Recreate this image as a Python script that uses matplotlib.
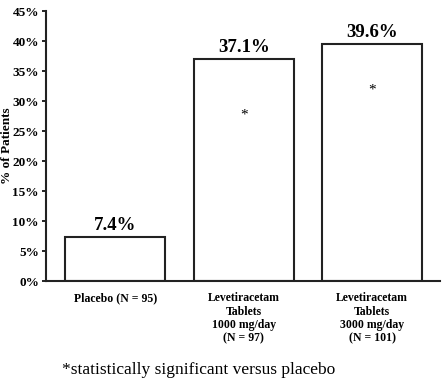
import matplotlib
matplotlib.use("Agg")
import matplotlib.pyplot as plt

# data
categories = ["Placebo (N = 95)",
              "Levetiracetam\nTablets\n1000 mg/day\n(N = 97)",
              "Levetiracetam\nTablets\n3000 mg/day\n(N = 101)"]
percent = [7.4, 37.1, 39.6]
significant = [False, True, True]
star_y = [None, 27.7, 31.8]
yticks = list(range(0, 50, 5))

plt.rcParams['font.family'] = ['Liberation Serif', 'DejaVu Serif']

fig = plt.figure(figsize=(4.46, 3.83), dpi=100)
ax = fig.add_axes([0.103, 0.266, 0.884, 0.705])

x = range(len(categories))
ax.bar(x, percent, width=0.78, color='white', edgecolor='#222222', linewidth=1.5)

for i, v in enumerate(percent):
    ax.text(i, v + 0.5, f"{v}%", ha='center', va='bottom',
            fontsize=13.5, fontweight='bold')
    if significant[i]:
        ax.text(i, star_y[i], "*", ha='center', va='center', fontsize=11)

ax.set_xlim(-0.54, 2.53)
ax.set_ylim(0, 45)
ax.set_yticks(yticks)
ax.set_yticklabels([f"{t}%" for t in yticks], fontsize=9.5, fontweight='bold')
ax.set_xticks(list(x))
ax.set_xticklabels(categories, fontsize=8.5, fontweight='bold', va='top',
                   linespacing=1.15)
ax.tick_params(axis='x', length=0, pad=8)
ax.tick_params(axis='y', length=3, width=1.2, direction='out', pad=2)
ax.set_ylabel("% of Patients", fontsize=9.5, fontweight='bold')
ax.yaxis.set_label_coords(-0.083, 0.5)

for s in ['top', 'right']:
    ax.spines[s].set_visible(False)
for s in ['left', 'bottom']:
    ax.spines[s].set_linewidth(1.5)
    ax.spines[s].set_color('#222222')

fig.text(0.139, 0.012, "*statistically significant versus placebo",
         fontsize=12.5, ha='left', va='bottom')

fig.savefig("out.png", dpi=100)
